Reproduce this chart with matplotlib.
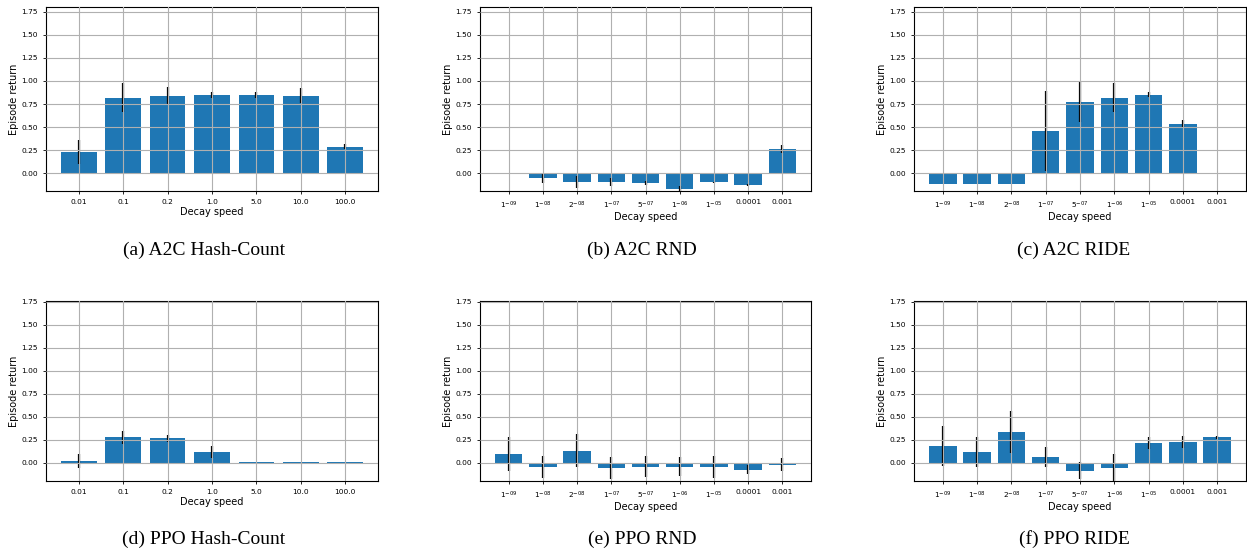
import matplotlib.pyplot as plt
import numpy as np

hashLabels = ["0.01", "0.1", "0.2", "1.0", "5.0", "10.0", "100.0"]
expLabels = [r"$1^{-09}$", r"$1^{-08}$", r"$2^{-08}$", r"$1^{-07}$", r"$5^{-07}$",
             r"$1^{-06}$", r"$1^{-05}$", "0.0001", "0.001"]

a2cHashMean = [0.232, 0.819, 0.840, 0.851, 0.851, 0.840, 0.286]
a2cHashErr = [0.13, 0.16, 0.10, 0.03, 0.03, 0.08, 0.027]
a2cRndMean = [0.0, -0.05, -0.094, -0.094, -0.105, -0.17, -0.094, -0.127, 0.264]
a2cRndErr = [0.008, 0.052, 0.063, 0.042, 0.02, 0.03, 0.005, 0.01, 0.042]
a2cRideMean = [-0.116, -0.116, -0.116, 0.46, 0.775, 0.819, 0.851, 0.536, 0.0]
a2cRideErr = [0.002, 0.002, 0.002, 0.43, 0.22, 0.16, 0.025, 0.04, 0.006]

ppoHashMean = [0.018, 0.275, 0.264, 0.116, 0.003, 0.003, 0.003]
ppoHashErr = [0.078, 0.07, 0.04, 0.07, 0.001, 0.001, 0.001]
ppoRndMean = [0.094, -0.043, 0.13, -0.058, -0.043, -0.043, -0.043, -0.076, -0.022]
ppoRndErr = [0.19, 0.12, 0.18, 0.12, 0.11, 0.10, 0.12, 0.05, 0.07]
ppoRideMean = [0.181, 0.116, 0.333, 0.062, -0.087, -0.054, 0.214, 0.225, 0.275]
ppoRideErr = [0.22, 0.16, 0.23, 0.11, 0.09, 0.15, 0.07, 0.07, 0.016]

captions = ["(a) A2C Hash-Count", "(b) A2C RND", "(c) A2C RIDE",
            "(d) PPO Hash-Count", "(e) PPO RND", "(f) PPO RIDE"]

W, H = 1247, 554
fig = plt.figure(figsize=(W / 100, H / 100), dpi=100)


def addAxes(x0, y0, x1, y1):
    return fig.add_axes([x0 / W, 1 - y1 / H, (x1 - x0) / W, (y1 - y0) / H])


def plotPanel(ax, labels, mean, err, ylim):
    x = np.arange(len(labels))
    ax.bar(x, mean, width=0.8, color="tab:blue", yerr=err, ecolor="black",
           error_kw={"elinewidth": 1.6})
    ax.set_axisbelow(False)
    ax.grid(True, color="#b0b0b0", linewidth=0.8)
    ax.set_xticks(x)
    ax.set_xticklabels(labels, fontsize=5.4)
    ax.set_yticks(np.arange(0, 1.76, 0.25))
    ax.tick_params(axis="y", labelsize=5.4, length=2.5, width=0.6)
    ax.tick_params(axis="x", length=2.5, width=0.6)
    ax.set_ylim(*ylim)
    ax.set_xlabel("Decay speed", fontsize=7, labelpad=1)
    ax.set_ylabel("Episode return", fontsize=7, labelpad=1.5)
    for s in ax.spines.values():
        s.set_linewidth(0.8)


topY = (7, 191)
botY = (301, 481)
cols = [(46, 378), (480, 811), (914, 1246)]

panels = [
    (hashLabels, a2cHashMean, a2cHashErr),
    (expLabels, a2cRndMean, a2cRndErr),
    (expLabels, a2cRideMean, a2cRideErr),
    (hashLabels, ppoHashMean, ppoHashErr),
    (expLabels, ppoRndMean, ppoRndErr),
    (expLabels, ppoRideMean, ppoRideErr),
]

capX = [204, 642, 1074]
capY = [250, 539]

for idx, (labels, mean, err) in enumerate(panels):
    row, col = divmod(idx, 3)
    y0, y1 = topY if row == 0 else botY
    x0, x1 = cols[col]
    ax = addAxes(x0, y0, x1, y1)
    ylim = (-0.19, 1.80) if row == 0 else (-0.2, 1.76)
    plotPanel(ax, labels, mean, err, ylim)
    fig.text(capX[col] / W, 1 - capY[row] / H, captions[idx], ha="center", va="center",
             fontsize=14, family="Liberation Serif")

plt.savefig("out.png", dpi=100)
